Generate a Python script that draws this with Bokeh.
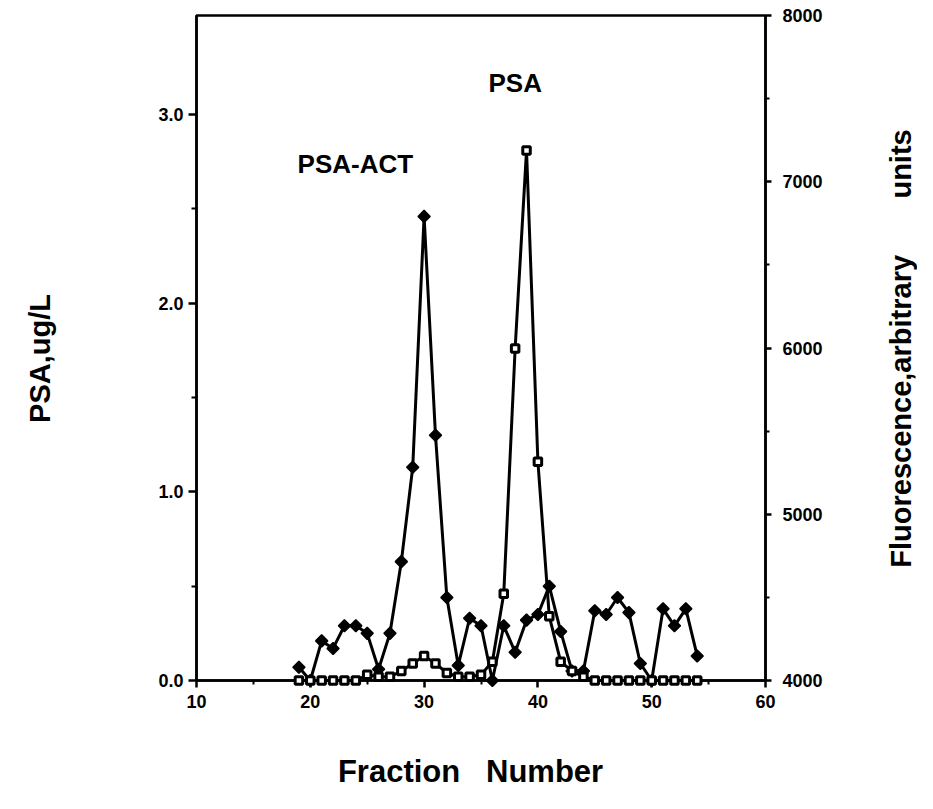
import math
from bokeh.plotting import figure
from bokeh.models import Range1d, LinearAxis, FixedTicker, PrintfTickFormatter
from bokeh.core.properties import value
from bokeh.embed import file_html
from bokeh.resources import INLINE

# ---- data ----
fraction = list(range(19, 55))
psa_act = [0.07, 0.00, 0.21, 0.17, 0.29, 0.29, 0.25, 0.06, 0.25, 0.63,
           1.13, 2.46, 1.30, 0.44, 0.08, 0.33, 0.29, 0.00, 0.29, 0.15,
           0.32, 0.35, 0.50, 0.26, 0.05, 0.05, 0.37, 0.35, 0.44, 0.36,
           0.09, 0.00, 0.38, 0.29, 0.38, 0.13]
psa_free = [0.00, 0.00, 0.00, 0.00, 0.00, 0.00, 0.03, 0.02, 0.02, 0.05,
            0.09, 0.13, 0.09, 0.04, 0.02, 0.02, 0.03, 0.10, 0.46, 1.76,
            2.81, 1.16, 0.34, 0.10, 0.05, 0.02, 0.00, 0.00, 0.00, 0.00,
            0.00, 0.00, 0.00, 0.00, 0.00, 0.00]
x_ticks = [10, 20, 30, 40, 50, 60]
x_minor = [15, 25, 35, 45, 55]
left_ticks = [0, 1, 2, 3]
left_minor = [0.5, 1.5, 2.5]
right_ticks = [4000, 5000, 6000, 7000, 8000]
right_minor = [4500, 5500, 6500, 7500]

FONT = "Liberation Sans"
NB = "\u00a0"

p = figure(width=917, height=793, output_backend="svg", toolbar_location=None,
           x_range=Range1d(10, 60), y_range=Range1d(0, 3.525),
           min_border_left=196, min_border_right=152,
           min_border_top=15, min_border_bottom=113)
p.grid.visible = False
p.outline_line_color = "black"
p.outline_line_width = 2.5
p.background_fill_color = "white"
p.border_fill_color = "white"

def style_axis(ax, tick_out, minor_out, standoff):
    ax.axis_line_width = 2.5
    ax.axis_line_color = "black"
    ax.major_tick_line_width = 2.5
    ax.minor_tick_line_width = 2
    ax.major_tick_in = 0
    ax.minor_tick_in = 0
    ax.major_tick_out = tick_out
    ax.minor_tick_out = minor_out
    ax.major_label_standoff = standoff
    ax.major_label_text_font = FONT
    ax.major_label_text_font_style = "bold"
    ax.major_label_text_font_size = "18px"
    ax.major_label_text_color = "black"

xa = p.xaxis[0]
xa.ticker = FixedTicker(ticks=x_ticks, minor_ticks=x_minor)
style_axis(xa, 7, 4, 7)

ya = p.yaxis[0]
ya.ticker = FixedTicker(ticks=left_ticks, minor_ticks=left_minor)
ya.formatter = PrintfTickFormatter(format="%.1f")
style_axis(ya, 8, 5, 5)

p.extra_y_ranges = {"fluor": Range1d(4000, 8000)}
ra = LinearAxis(y_range_name="fluor",
                ticker=FixedTicker(ticks=right_ticks, minor_ticks=right_minor))
style_axis(ra, 6, 4, 11)
p.add_layout(ra, "right")

# ---- series ----
r1 = p.line(fraction, psa_act, line_color="black", line_width=3)
r2 = p.scatter(fraction, psa_act, marker="square", angle=math.pi / 4, size=8.5,
               fill_color="black", line_color="black", line_width=1.5)
r3 = p.line(fraction, psa_free, line_color="black", line_width=3)
r4 = p.scatter(fraction, psa_free, marker="square", size=7.5,
               fill_color="white", line_color="black", line_width=3)
for r in (r1, r2, r3, r4):
    r.level = "overlay"

# ---- texts ----
def add_text(x, y, s, size, angle=0.0, align="left", baseline="middle"):
    t = p.text(x=[x], y=[y], text=[s], angle=angle,
               text_font=value(FONT), text_font_size=size,
               text_font_style="bold", text_color="black",
               text_align=align, text_baseline=baseline)
    t.level = "overlay"
    return t

add_text(18.88, 2.740, "PSA-ACT", "26px")
add_text(35.66, 3.167, "PSA", "26px")
add_text(-3.79, 1.707, "PSA,ug/L", "29px", angle=math.pi / 2, align="center")
add_text(71.90, 1.760, "Fluorescence,arbitrary " + NB * 6 + "units", "29px",
         angle=math.pi / 2, align="center")
add_text(34.08, -0.482, "Fraction " + NB * 2 + "Number", "31px", align="center")

open("out.html", "w").write(file_html(p, INLINE))
